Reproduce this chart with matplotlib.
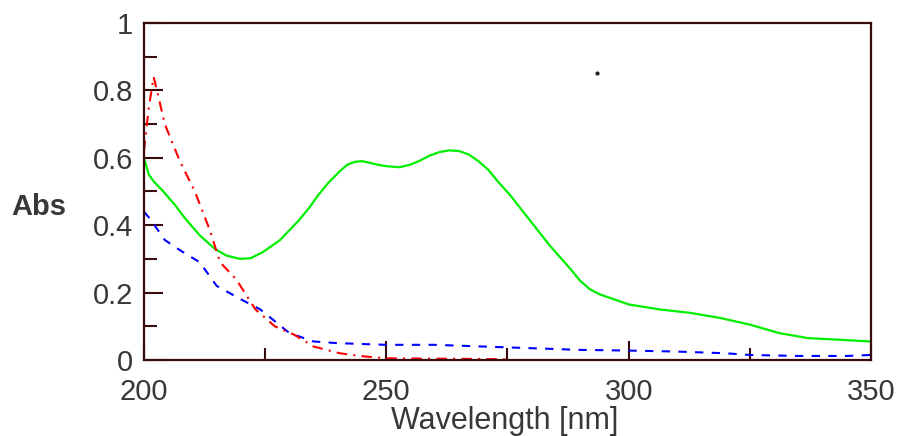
import matplotlib.pyplot as plt
from matplotlib.ticker import MultipleLocator

# ====== Data ====== #
green_x = [200, 201, 202, 204, 206.4, 208.5, 211.5, 214.6, 217, 219.8, 222, 224.5,
           226, 228, 230, 232, 234, 236, 238, 240.4, 242, 243.5, 245, 246.6, 248,
           250, 252.8, 255, 257, 259, 261, 263, 265, 267, 269, 271, 273, 275.5,
           279.6, 283.7, 288, 290, 292, 294, 296, 300, 306.4, 312.6, 318.8,
           325, 331, 337, 343.6, 350]
green_y = [0.60, 0.55, 0.53, 0.50, 0.46, 0.42, 0.37, 0.33, 0.31, 0.30, 0.302, 0.32,
           0.335, 0.355, 0.385, 0.415, 0.45, 0.49, 0.525, 0.56, 0.58, 0.588, 0.59, 0.585, 0.58,
           0.575, 0.572, 0.58, 0.592, 0.607, 0.617, 0.622, 0.62, 0.61, 0.59, 0.565, 0.53, 0.49,
           0.415, 0.34, 0.27, 0.235, 0.21, 0.195, 0.185, 0.165, 0.15, 0.14, 0.125,
           0.105, 0.08, 0.065, 0.06, 0.055]

blue_x = [200, 201.2, 204.3, 207.4, 211.5, 215, 220, 224, 227, 230, 235, 240,
          250, 260, 270, 280, 290, 300, 310, 320, 325, 335, 345, 350]
blue_y = [0.44, 0.42, 0.356, 0.326, 0.29, 0.22, 0.18, 0.15, 0.115, 0.08, 0.055, 0.05,
          0.045, 0.045, 0.04, 0.035, 0.03, 0.028, 0.025, 0.02, 0.015, 0.012, 0.012, 0.015]

red_x = [200, 201, 202, 203, 204.3, 207.4, 210.5, 213.6, 215.7, 219, 223, 227,
         231, 235, 240.4, 244.5, 250, 260, 270, 275]
red_y = [0.62, 0.75, 0.84, 0.78, 0.70, 0.59, 0.50, 0.385, 0.29, 0.24, 0.15, 0.10,
         0.075, 0.04, 0.02, 0.012, 0.005, 0.004, 0.003, 0.002]

# stray dot visible in the original plot area
dot_x = [293.5]
dot_y = [0.852]

X_TICKS = [200, 250, 300, 350]
Y_TICKS = [0, 0.2, 0.4, 0.6, 0.8, 1]
Y_LABELS = ["0", "0.2", "0.4", "0.6", "0.8", "1"]

# ====== Style ====== #
FRAME = "#3b0a0a"
TEXT = "#383838"
plt.rcParams['font.family'] = ['Liberation Sans', 'DejaVu Sans']

fig = plt.figure(figsize=(8.97, 4.36), dpi=100)
ax = fig.add_axes([0.1605, 0.1743, 0.8105, 0.7730])

ax.plot(green_x, green_y, color="#00ee00", lw=1.6)
ax.plot(blue_x, blue_y, color="#0000ff", lw=1.5, dashes=(4, 4))
ax.plot(red_x, red_y, color="#ff0000", lw=1.5, dashes=(5, 3, 1, 3))
ax.plot(dot_x, dot_y, 'o', color="#222222", ms=2)

ax.set_xlim(200, 350)
ax.set_ylim(0, 1)

for s in ax.spines.values():
    s.set_color(FRAME)
    s.set_linewidth(1.6)

ax.set_xticks(X_TICKS)
ax.set_yticks(Y_TICKS)
ax.set_yticklabels(Y_LABELS)
ax.xaxis.set_minor_locator(MultipleLocator(25))
ax.yaxis.set_minor_locator(MultipleLocator(0.1))
ax.tick_params(axis='both', which='major', direction='in', length=14, width=1.5,
               color=FRAME, labelsize=21, labelcolor=TEXT)
ax.tick_params(axis='both', which='minor', direction='in', length=9, width=1.5,
               color=FRAME)
ax.tick_params(axis='x', which='major', pad=13)
ax.tick_params(axis='y', which='major', pad=8)

fig.text(0.013, 0.525, "Abs", fontsize=21, fontweight='bold', color=TEXT,
         va='center', ha='left')
fig.text(0.563, 0.015, "Wavelength [nm]", fontsize=22, color=TEXT,
         va='baseline', ha='center')

fig.savefig("out.png", dpi=100)
